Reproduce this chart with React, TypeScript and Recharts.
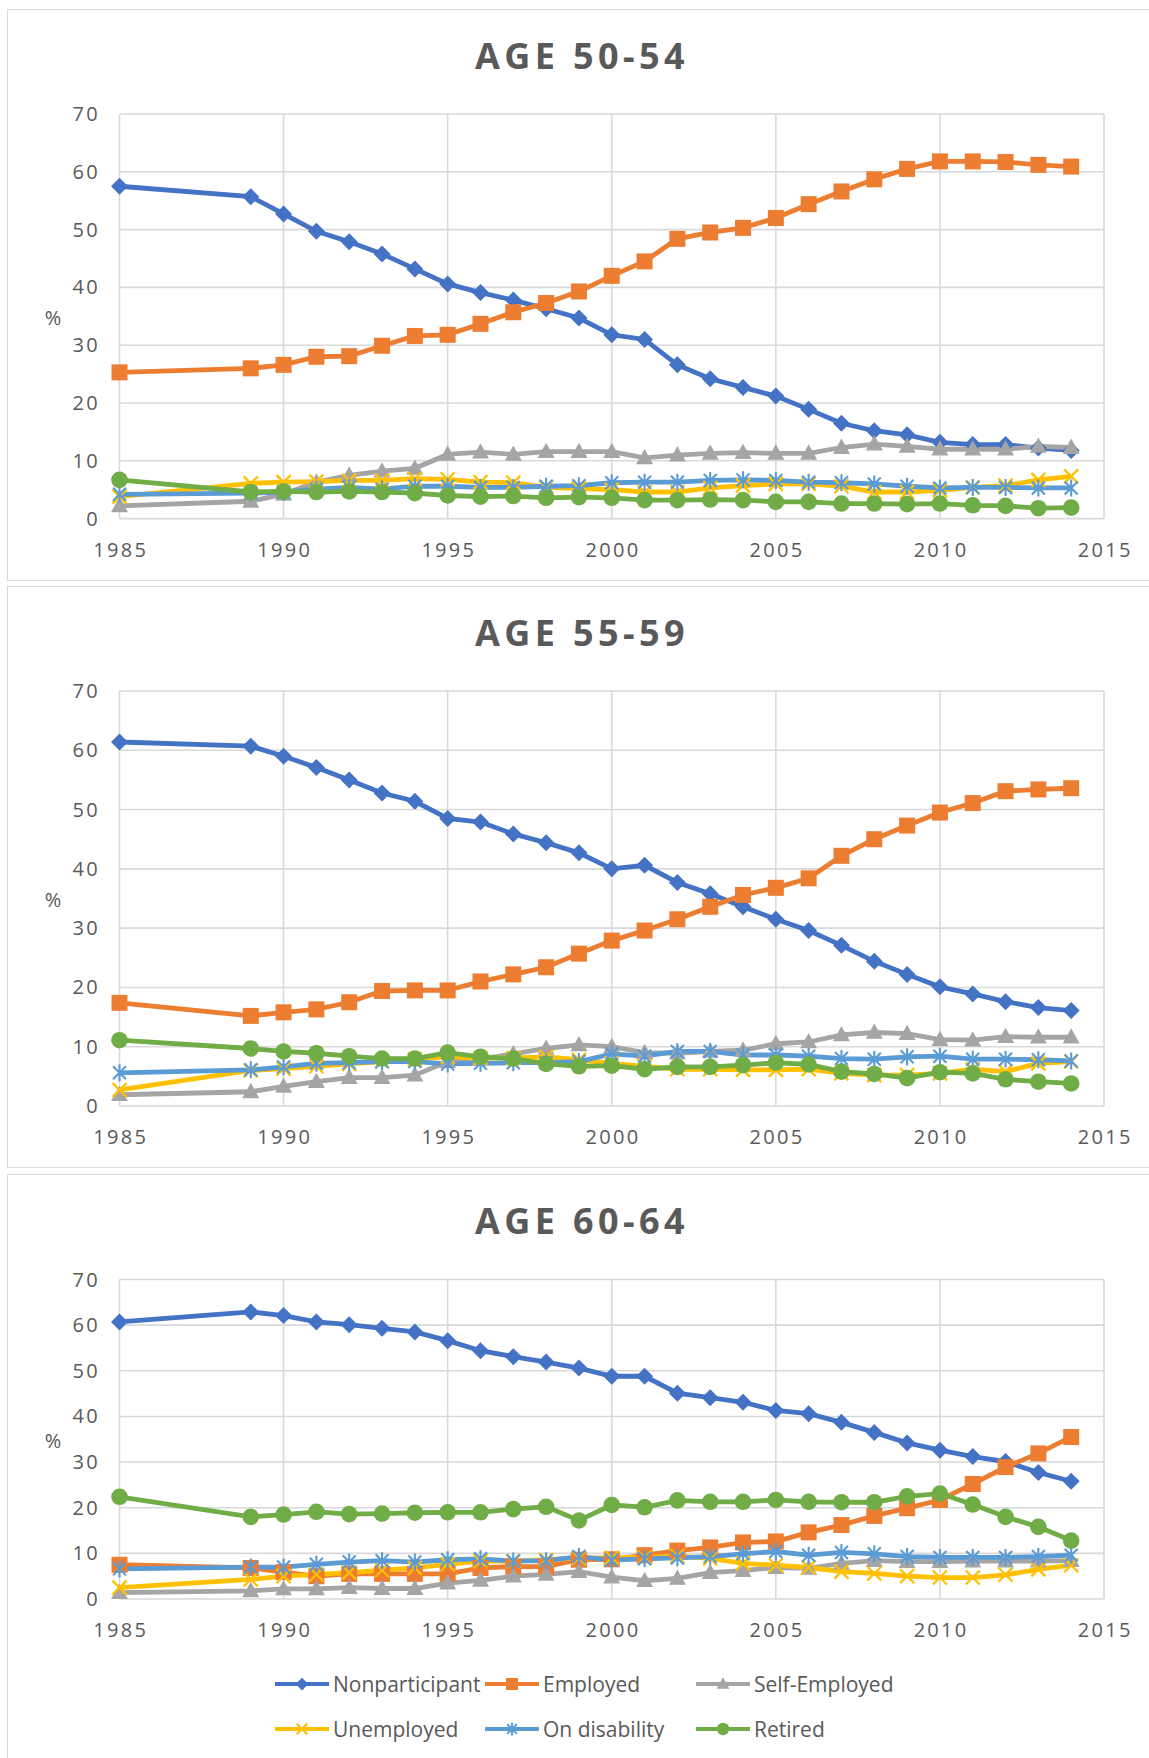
import React from 'react';
import { LineChart, Line, XAxis, YAxis, CartesianGrid } from 'recharts';

const years = [
  1985, 1989, 1990, 1991, 1992, 1993, 1994, 1995, 1996, 1997, 1998, 1999, 2000, 2001,
  2002, 2003, 2004, 2005, 2006, 2007, 2008, 2009, 2010, 2011, 2012, 2013, 2014,
];
const xTicks = [1985, 1990, 1995, 2000, 2005, 2010, 2015];
const yTicks = [0, 10, 20, 30, 40, 50, 60, 70];

// AGE 50-54
const nonparticipant5054 = [57.5, 55.7, 52.7, 49.7, 47.9, 45.8, 43.2, 40.6, 39.1, 37.8, 36.3, 34.7, 31.8, 31.0, 26.6, 24.2, 22.7, 21.2, 18.9, 16.5, 15.2, 14.5, 13.2, 12.8, 12.8, 12.2, 11.8];
const employed5054 = [25.3, 26.0, 26.6, 28.0, 28.1, 29.9, 31.6, 31.8, 33.7, 35.7, 37.3, 39.3, 42.0, 44.5, 48.4, 49.5, 50.3, 52.0, 54.4, 56.6, 58.7, 60.5, 61.8, 61.8, 61.7, 61.2, 60.9];
const selfEmployed5054 = [2.2, 3.0, 4.2, 6.3, 7.5, 8.2, 8.7, 11.1, 11.5, 11.1, 11.6, 11.6, 11.6, 10.5, 11.0, 11.3, 11.4, 11.3, 11.3, 12.3, 12.9, 12.5, 12.0, 12.0, 12.0, 12.5, 12.3];
const unemployed5054 = [3.8, 6.1, 6.3, 6.4, 6.6, 6.6, 6.9, 6.8, 6.3, 6.2, 5.4, 5.2, 5.0, 4.6, 4.6, 5.3, 5.7, 6.0, 6.0, 5.6, 4.6, 4.6, 4.9, 5.4, 5.7, 6.7, 7.3];
const disability5054 = [4.2, 4.4, 4.6, 5.1, 5.4, 5.1, 5.6, 5.6, 5.4, 5.4, 5.6, 5.7, 6.2, 6.3, 6.3, 6.6, 6.7, 6.6, 6.3, 6.2, 6.0, 5.6, 5.3, 5.4, 5.4, 5.3, 5.3];
const retired5054 = [6.7, 4.6, 4.7, 4.6, 4.7, 4.6, 4.4, 4.0, 3.8, 3.9, 3.6, 3.7, 3.6, 3.2, 3.2, 3.3, 3.2, 2.9, 2.9, 2.6, 2.6, 2.5, 2.6, 2.3, 2.2, 1.8, 1.9];

// AGE 55-59
const nonparticipant5559 = [61.4, 60.7, 59.0, 57.1, 55.0, 52.8, 51.4, 48.5, 47.9, 45.9, 44.4, 42.7, 40.0, 40.6, 37.7, 35.8, 33.6, 31.5, 29.6, 27.1, 24.4, 22.2, 20.1, 18.9, 17.6, 16.6, 16.1];
const employed5559 = [17.4, 15.2, 15.8, 16.3, 17.5, 19.4, 19.5, 19.5, 21.0, 22.2, 23.4, 25.7, 27.9, 29.6, 31.5, 33.6, 35.6, 36.8, 38.4, 42.2, 45.0, 47.3, 49.5, 51.1, 53.1, 53.4, 53.6];
const selfEmployed5559 = [1.9, 2.4, 3.3, 4.1, 4.8, 4.8, 5.2, 7.5, 7.9, 8.8, 9.7, 10.3, 10.0, 9.0, 8.9, 9.2, 9.4, 10.5, 10.8, 12.0, 12.4, 12.2, 11.2, 11.1, 11.7, 11.6, 11.6];
const unemployed5559 = [2.7, 6.0, 6.3, 6.7, 7.1, 7.5, 7.9, 8.3, 8.1, 8.1, 8.3, 7.8, 7.2, 6.7, 6.2, 6.2, 6.1, 6.1, 6.2, 5.5, 5.2, 5.2, 5.5, 6.2, 5.8, 7.2, 7.5];
const disability5559 = [5.6, 6.1, 6.6, 7.2, 7.3, 7.5, 7.5, 7.1, 7.2, 7.3, 7.3, 7.5, 8.8, 8.4, 9.2, 9.2, 8.6, 8.6, 8.4, 8.0, 7.9, 8.3, 8.4, 7.9, 7.9, 7.8, 7.6];
const retired5559 = [11.1, 9.7, 9.2, 8.9, 8.4, 8.0, 8.0, 9.0, 8.3, 8.0, 7.1, 6.7, 6.8, 6.2, 6.6, 6.6, 6.9, 7.3, 7.0, 5.8, 5.4, 4.7, 5.7, 5.5, 4.5, 4.1, 3.8];

// AGE 60-64
const nonparticipant6064 = [60.7, 62.9, 62.1, 60.7, 60.1, 59.3, 58.5, 56.6, 54.4, 53.1, 51.9, 50.6, 48.8, 48.8, 45.1, 44.1, 43.1, 41.3, 40.6, 38.7, 36.5, 34.2, 32.6, 31.2, 30.1, 27.7, 25.8];
const employed6064 = [7.5, 6.8, 5.9, 5.0, 5.5, 5.5, 5.5, 5.5, 6.8, 7.1, 7.1, 8.6, 8.7, 9.6, 10.6, 11.3, 12.4, 12.6, 14.6, 16.2, 18.2, 19.9, 21.7, 25.2, 28.9, 31.9, 35.5];
const selfEmployed6064 = [1.4, 1.8, 2.2, 2.2, 2.5, 2.3, 2.3, 3.5, 4.1, 5.0, 5.4, 6.0, 4.8, 4.0, 4.5, 5.8, 6.2, 6.9, 6.7, 7.8, 8.4, 8.2, 8.2, 8.3, 8.3, 8.3, 8.4];
const unemployed6064 = [2.5, 4.3, 5.0, 5.4, 5.8, 6.3, 6.8, 7.6, 8.3, 8.3, 8.6, 9.0, 9.0, 9.1, 9.4, 8.9, 7.8, 7.4, 6.9, 6.0, 5.6, 5.0, 4.7, 4.7, 5.3, 6.5, 7.4];
const disability6064 = [6.6, 7.0, 7.0, 7.6, 8.1, 8.4, 8.1, 8.6, 8.8, 8.3, 8.4, 9.3, 8.5, 8.8, 9.0, 9.3, 9.9, 10.4, 9.6, 10.2, 9.9, 9.3, 9.1, 9.1, 9.1, 9.3, 9.6];
const retired6064 = [22.4, 18.0, 18.5, 19.1, 18.6, 18.7, 18.9, 19.0, 19.0, 19.7, 20.2, 17.2, 20.6, 20.1, 21.6, 21.3, 21.3, 21.7, 21.3, 21.2, 21.2, 22.5, 23.1, 20.7, 18.0, 15.8, 12.8];

type MarkerKind = 'diamond' | 'square' | 'triangle' | 'x' | 'star' | 'circle';

const SERIES: { key: string; name: string; color: string; marker: MarkerKind }[] = [
  { key: 'nonparticipant', name: 'Nonparticipant', color: '#4472C4', marker: 'diamond' },
  { key: 'employed', name: 'Employed', color: '#ED7D31', marker: 'square' },
  { key: 'selfEmployed', name: 'Self-Employed', color: '#A5A5A5', marker: 'triangle' },
  { key: 'unemployed', name: 'Unemployed', color: '#FFC000', marker: 'x' },
  { key: 'disability', name: 'On disability', color: '#5B9BD5', marker: 'star' },
  { key: 'retired', name: 'Retired', color: '#70AD47', marker: 'circle' },
];

const buildRows = (cols: number[][]) =>
  years.map((year, i) => {
    const row: Record<string, number> = { year };
    SERIES.forEach((s, j) => {
      row[s.key] = cols[j][i];
    });
    return row;
  });

const FONT = '"Open Sans", "Noto Sans", sans-serif';
const TEXT = '#595959';
const GRID = '#D9D9D9';

const CONTENT_W = 1144;
const PLOT_LEFT = 111.5;
const PLOT_RIGHT = 1096;
const X_AXIS_H = 40;

// k scales the marker (legend swatches use smaller ones)
const Marker = ({ kind, cx, cy, color, k = 1 }: { kind: MarkerKind; cx: number; cy: number; color: string; k?: number }) => {
  switch (kind) {
    case 'diamond': {
      const r = 8.5 * k;
      return <polygon points={`${cx},${cy - r} ${cx + r},${cy} ${cx},${cy + r} ${cx - r},${cy}`} fill={color} />;
    }
    case 'square': {
      const r = 8 * k;
      return <rect x={cx - r} y={cy - r} width={2 * r} height={2 * r} fill={color} />;
    }
    case 'triangle': {
      const r = 8.5 * k;
      return <polygon points={`${cx},${cy - r * 1.05} ${cx + r},${cy + r * 0.75} ${cx - r},${cy + r * 0.75}`} fill={color} />;
    }
    case 'x': {
      const r = 7 * k;
      return (
        <path
          d={`M${cx - r},${cy - r}L${cx + r},${cy + r}M${cx + r},${cy - r}L${cx - r},${cy + r}`}
          stroke={color}
          strokeWidth={2.3}
          fill="none"
        />
      );
    }
    case 'star': {
      const r = 6.5 * k;
      const v = 8.5 * k;
      return (
        <path
          d={`M${cx - r},${cy - r}L${cx + r},${cy + r}M${cx + r},${cy - r}L${cx - r},${cy + r}M${cx},${cy - v}L${cx},${cy + v}`}
          stroke={color}
          strokeWidth={2.1}
          fill="none"
        />
      );
    }
    default:
      return <circle cx={cx} cy={cy} r={8.3 * k} fill={color} />;
  }
};

const XTick = ({ x, y, payload }: any) => (
  <text x={x + 1.2} y={y + 38} textAnchor="middle" fill={TEXT} fontSize={20} fontFamily={FONT} letterSpacing={2.3}>
    {payload.value}
  </text>
);

const YTick = ({ x, y, payload }: any) => (
  <text x={x - 19.5} y={y + 7} textAnchor="end" fill={TEXT} fontSize={20} fontFamily={FONT} letterSpacing={2.3}>
    {payload.value}
  </text>
);

interface PanelProps {
  title: string;
  top: number;
  height: number;
  plotTop: number;
  plotBottom: number;
  rows: Record<string, number>[];
  legend?: boolean;
}

const LEGEND_COLS = [275 - 8, 485 - 8, 696 - 8];
const LEGEND_ROWS = [509, 554];

const Panel = ({ title, top, height, plotTop, plotBottom, rows, legend }: PanelProps) => {
  const h = height - 2;
  const mid = (plotTop + plotBottom) / 2;
  return (
    <div
      style={{
        position: 'absolute',
        left: 7,
        top,
        width: CONTENT_W,
        height: h,
        border: `1px solid ${GRID}`,
        background: '#fff',
      }}
    >
      <LineChart
        width={CONTENT_W}
        height={h}
        data={rows}
        margin={{ top: plotTop, right: CONTENT_W - PLOT_RIGHT, left: 0, bottom: h - plotBottom - X_AXIS_H }}
      >
        <CartesianGrid stroke={GRID} strokeWidth={1.6} />
        <XAxis
          dataKey="year"
          type="number"
          domain={[1985, 2015]}
          ticks={xTicks}
          height={X_AXIS_H}
          axisLine={false}
          tickLine={false}
          tickSize={0}
          tickMargin={0}
          tick={<XTick />}
          interval={0}
        />
        <YAxis
          domain={[0, 70]}
          ticks={yTicks}
          width={PLOT_LEFT}
          axisLine={false}
          tickLine={false}
          tickSize={0}
          tickMargin={0}
          tick={<YTick />}
          interval={0}
        />
        {SERIES.map((s) => (
          <Line
            key={s.key}
            dataKey={s.key}
            name={s.name}
            stroke={s.color}
            strokeWidth={4.8}
            type="linear"
            isAnimationActive={false}
            activeDot={false}
            dot={(p: any) => <Marker key={`${s.key}-${p.index}`} kind={s.marker} cx={p.cx} cy={p.cy} color={s.color} />}
          />
        ))}
      </LineChart>
      <svg
        width={CONTENT_W}
        height={h}
        style={{ position: 'absolute', left: 0, top: 0, pointerEvents: 'none' }}
      >
        <text
          x={CONTENT_W / 2 + 2}
          y={59}
          textAnchor="middle"
          fill={TEXT}
          fontSize={36}
          fontWeight={700}
          fontFamily={FONT}
          letterSpacing={4.4}
        >
          {title}
        </text>
        <text x={45} y={mid + 8.5} textAnchor="middle" fill={TEXT} fontSize={20} fontFamily={FONT}>
          %
        </text>
        {legend &&
          SERIES.map((s, i) => {
            const lx = LEGEND_COLS[i % 3];
            const ly = LEGEND_ROWS[Math.floor(i / 3)];
            return (
              <g key={s.key}>
                <line x1={lx} y1={ly} x2={lx + 54} y2={ly} stroke={s.color} strokeWidth={4.2} />
                <Marker kind={s.marker} cx={lx + 27} cy={ly} color={s.color} k={0.75} />
                <text x={lx + 58} y={ly + 7.5} fill={TEXT} fontSize={21} fontFamily={FONT}>
                  {s.name}
                </text>
              </g>
            );
          })}
      </svg>
    </div>
  );
};

export default function App() {
  return (
    <div
      style={{
        position: 'fixed',
        left: 0,
        top: 0,
        width: 1149,
        height: 1758,
        overflow: 'hidden',
        background: '#fff',
      }}
    >
      <Panel
        title="AGE 50-54"
        top={9}
        height={572}
        plotTop={104}
        plotBottom={508.6}
        rows={buildRows([nonparticipant5054, employed5054, selfEmployed5054, unemployed5054, disability5054, retired5054])}
      />
      <Panel
        title="AGE 55-59"
        top={586}
        height={582}
        plotTop={104}
        plotBottom={519}
        rows={buildRows([nonparticipant5559, employed5559, selfEmployed5559, unemployed5559, disability5559, retired5559])}
      />
      <Panel
        title="AGE 60-64"
        top={1174}
        height={600}
        plotTop={104.5}
        plotBottom={424}
        legend
        rows={buildRows([nonparticipant6064, employed6064, selfEmployed6064, unemployed6064, disability6064, retired6064])}
      />
    </div>
  );
}
